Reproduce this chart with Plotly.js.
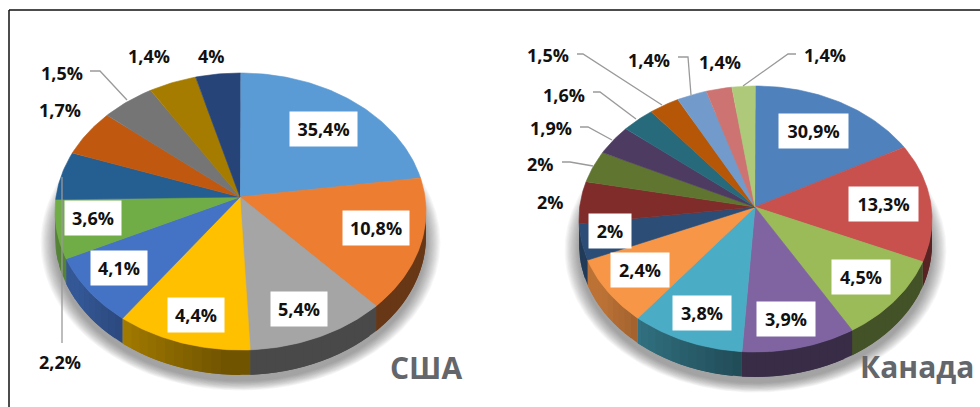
<!DOCTYPE html>
<html><head><meta charset="utf-8">
<script src="https://cdn.plot.ly/plotly-3.0.1.min.js"></script>
<style>html,body{margin:0;padding:0;background:#fff}#c{width:980px;height:407px}</style>
</head><body><div id="c"></div>
<script>
// Displayed labels
const usaLabels = ["35,4%","10,8%","5,4%","4,4%","4,1%","3,6%","2,2%","1,7%","1,5%","1,4%","4%"];
const canadaLabels = ["30,9%","13,3%","4,5%","3,9%","3,8%","2,4%","2%","2%","2%","1,9%","1,6%","1,5%","1,4%","1,4%","1,4%"];
// Slice sweep in degrees
const usaSweep = [76,57,44,42.5,30.5,25,20,19,17,15,14];
const canadaSweep = [57.3,51.4,38.1,37.6,37.4,30.2,16,18.3,13.7,12.7,11.1,10.1,9.9,8.5,7.7];
// Colours
const usaColors = ["#5B9BD5","#ED7D31","#A5A5A5","#FFC000","#4472C4","#70AD47","#255E91","#C0590F","#757575","#A67C00","#264478"];
const canadaColors = ["#4F81BD","#C8504D","#9BBB59","#8064A2","#4BACC6","#F79646","#2C4D75","#7F2C2A","#5F7530","#4D3B62","#276A7C","#B65708","#729ACA","#CD7371","#AFC97A"];
// Pie geometry (pixel-scaled axes)
const usaGeom = {cx:240.5, cy:211.5, rx:185.5, ry:138.5, ax:240, ay:197, depth:25};
const canadaGeom = {cx:755.5, cy:219, rx:176.5, ry:133, ax:755, ay:207, depth:25};
// Label placement: [x, y, boxWidth] with boxWidth 0 = no box
const usaPlace = [[323,129,67],[376,228,66],[299,309,56],[196,315,56],[119,268,56],[93,218,56],[60,362,0],[60,110,0],[62,73,0],[149,56,0],[211,56,0]];
const canadaPlace = [[813.5,131,69],[883,204,69],[861,277,58],[786,319,58],[702,313,58],[640,270,58],[610,231,42],[550,202,0],[540,164,0],[551,128,0],[564,95,0],[548,55,0],[649,60,0],[720,62,0],[825,55,0]];
// Leader lines
const leaders = [
  {x:[90,100,127], y:[71,71,100]},
  {x:[62,62], y:[177,343]},
  {x:[577,583,662], y:[54,54,105]},
  {x:[678,688,691], y:[57,57,95]},
  {x:[796,788,743], y:[54,54,86]},
  {x:[593,600,636], y:[92,92,119]},
  {x:[580,588,612], y:[127,127,140]},
  {x:[562,570,593], y:[162,162,166]}
];
const titles = [{text:"США",x:426,y:367},{text:"Канада",x:917,y:366}];
const FONT = "'Open Sans', sans-serif";

function shade(hex,f){
  const n=parseInt(hex.slice(1),16);
  return "rgb("+[(n>>16)&255,(n>>8)&255,n&255].map(v=>Math.round(v*f)).join(",")+")";
}
function pt(g,deg,dy){
  const t=deg*Math.PI/180;
  return [g.cx+g.rx*Math.sin(t), g.cy-g.ry*Math.cos(t)+(dy||0)];
}
function arc(g,a,b,dy){
  const out=[]; const n=Math.max(2,Math.ceil(Math.abs(b-a)));
  for(let i=0;i<=n;i++) out.push(pt(g,a+(b-a)*i/n,dy));
  return out;
}
function poly(points,color,name){
  return {type:"scatter",mode:"lines",x:points.map(p=>p[0]),y:points.map(p=>p[1]),fill:"toself",
    fillcolor:color,line:{color:color,width:0.6},hoverinfo:name?"text":"skip",text:name||"",showlegend:false};
}
function shadow(g){
  const tr=[]; const layers=14;
  for(let i=0;i<layers;i++){
    const grow=12-i*0.9;
    const s={cx:g.cx,cy:g.cy+g.depth+6,rx:g.rx+grow*1.2,ry:g.ry+grow*0.8};
    const p=poly(arc(s,0,360),"rgba(60,60,60,0.04)");
    p.line={width:0};
    tr.push(p);
  }
  return tr;
}
// Side wall lightens from the front of the pie toward its left edge
function wallFactor(deg){
  return 0.44+0.32*Math.min(1,Math.max(0,(deg-185)/55));
}
function pie(g,sweep,colors,labels){
  const walls=[],tops=[]; let a=0;
  sweep.forEach((s,i)=>{
    const b=a+s;
    const lo=Math.max(a,90), hi=Math.min(b,270);
    for(let d=lo;d<hi;d+=3){
      // each strip runs under the next one so no seam shows
      const e=Math.min(d+6,hi);
      const strip=poly(arc(g,d,e,0).concat(arc(g,e,d,g.depth)),shade(colors[i],wallFactor(d+1.5)));
      strip.line={width:0};
      walls.push(strip);
    }
    tops.push(poly([[g.ax,g.ay]].concat(arc(g,a,b,0)),colors[i],labels[i]));
    a=b;
  });
  return shadow(g).concat(walls,tops);
}
function anns(labels,place){
  return labels.map((t,i)=>{
    const p=place[i];
    const o={text:"<b>"+t+"</b>",x:p[0],y:p[1],xref:"x",yref:"y",showarrow:false,
      font:{family:FONT,size:18,color:"#111"},xanchor:"center",yanchor:"middle"};
    if(p[2]){o.bgcolor="#fff";o.width=p[2];o.height=34;o.borderpad=0;o.align="center";}
    return o;
  });
}
const leaderTraces = leaders.map(l=>({type:"scatter",mode:"lines",x:l.x,y:l.y,
  line:{color:"#9a9a9a",width:1.3},hoverinfo:"skip",showlegend:false}));
const titleAnns = titles.map(t=>({text:"<b>"+t.text+"</b>",x:t.x,y:t.y,xref:"x",yref:"y",showarrow:false,
  font:{family:FONT,size:30,color:"#63666A"},xanchor:"center",yanchor:"middle"}));
const hidden = {visible:false,fixedrange:true};
Plotly.newPlot("c",
  pie(usaGeom,usaSweep,usaColors,usaLabels).concat(pie(canadaGeom,canadaSweep,canadaColors,canadaLabels),leaderTraces),
  {width:980,height:407,margin:{l:0,r:0,t:0,b:0},paper_bgcolor:"#fff",plot_bgcolor:"#fff",showlegend:false,
   xaxis:Object.assign({range:[0,980]},hidden),
   yaxis:Object.assign({range:[407,0]},hidden),
   shapes:[{type:"line",xref:"x",yref:"y",x0:9,x1:980,y0:10,y1:10,line:{color:"#111",width:1.5}},
           {type:"line",xref:"x",yref:"y",x0:9,x1:9,y0:10,y1:407,line:{color:"#111",width:1.5}}],
   annotations:anns(usaLabels,usaPlace).concat(anns(canadaLabels,canadaPlace),titleAnns)},
  {displayModeBar:false});
</script>
</body></html>
